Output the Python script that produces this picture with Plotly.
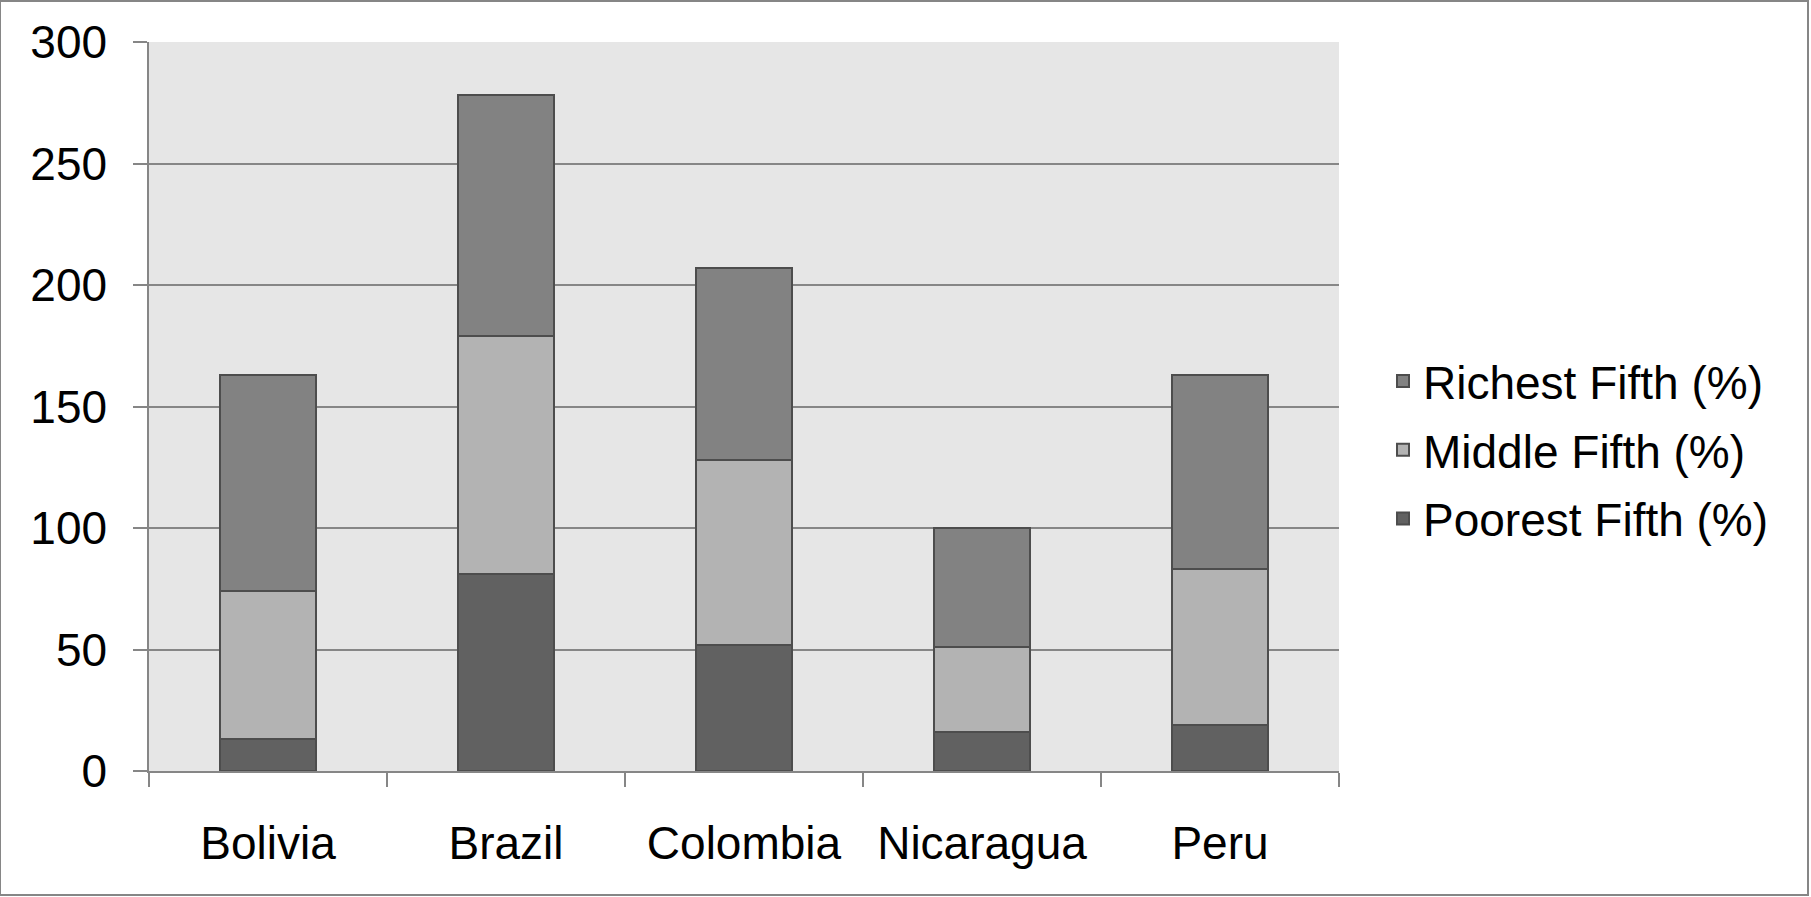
import plotly.graph_objects as go

countries = ["Bolivia", "Brazil", "Colombia", "Nicaragua", "Peru"]
poorest = [13, 81, 52, 16, 19]
middle = [61, 98, 76, 35, 64]
richest = [89, 99, 79, 49, 80]
y_ticks = [0, 50, 100, 150, 200, 250, 300]

W, H = 1811, 897
ML, MR, MT, MB = 149, 472, 42, 126

series = [
    ("Poorest Fifth (%)", poorest, "#616161", 3),
    ("Middle Fifth (%)", middle, "#b3b3b3", 2),
    ("Richest Fifth (%)", richest, "#828282", 1),
]

fig = go.Figure()
for name, vals, col, rank in series:
    fig.add_trace(go.Bar(
        x=countries, y=vals, name=name, legendgroup=name, legendrank=rank,
        marker=dict(color=col, line=dict(color="#4d4d4d", width=2)),
    ))

FONT = dict(family="Liberation Sans, Arial, sans-serif", size=46, color="#000000")

pw = W - ML - MR
ph = H - MT - MB

fig.update_layout(
    width=W, height=H,
    barmode="stack", bargap=0.6,
    paper_bgcolor="white", plot_bgcolor="#e6e6e6",
    margin=dict(l=ML, r=MR, t=MT, b=MB, pad=0),
    font=FONT,
    showlegend=True,
    legend=dict(
        x=(1383 - ML) / pw, xanchor="left",
        y=(H - MB - 450) / ph, yanchor="middle",
        traceorder="grouped", tracegroupgap=6, font=FONT,
        bgcolor="rgba(0,0,0,0)", itemwidth=30,
    ),
    xaxis=dict(
        showgrid=False, showline=True, linecolor="#868686", linewidth=1.5,
        ticks="outside", ticklen=14, tickcolor="#868686", tickwidth=1.5,
        tickson="boundaries", ticklabelstandoff=31,
    ),
    yaxis=dict(
        range=[0, 300], tickvals=y_ticks, showgrid=True,
        gridcolor="#868686", gridwidth=1.5,
        showline=True, linecolor="#868686", linewidth=1.5,
        ticks="outside", ticklen=14, tickcolor="#868686", tickwidth=1.5,
        zeroline=False, ticklabelstandoff=17,
    ),
)

# outer frame around the whole figure
fig.add_shape(
    type="rect", xref="paper", yref="paper",
    x0=(0 - ML) / pw, x1=(W - 3 - ML) / pw,
    y0=-(MB - 2) / ph, y1=1 + (MT - 1) / ph,
    line=dict(color="#868686", width=2), layer="above",
)

fig.write_html("out.html", config={"displayModeBar": False},
               post_script="document.body.style.margin='0';")
